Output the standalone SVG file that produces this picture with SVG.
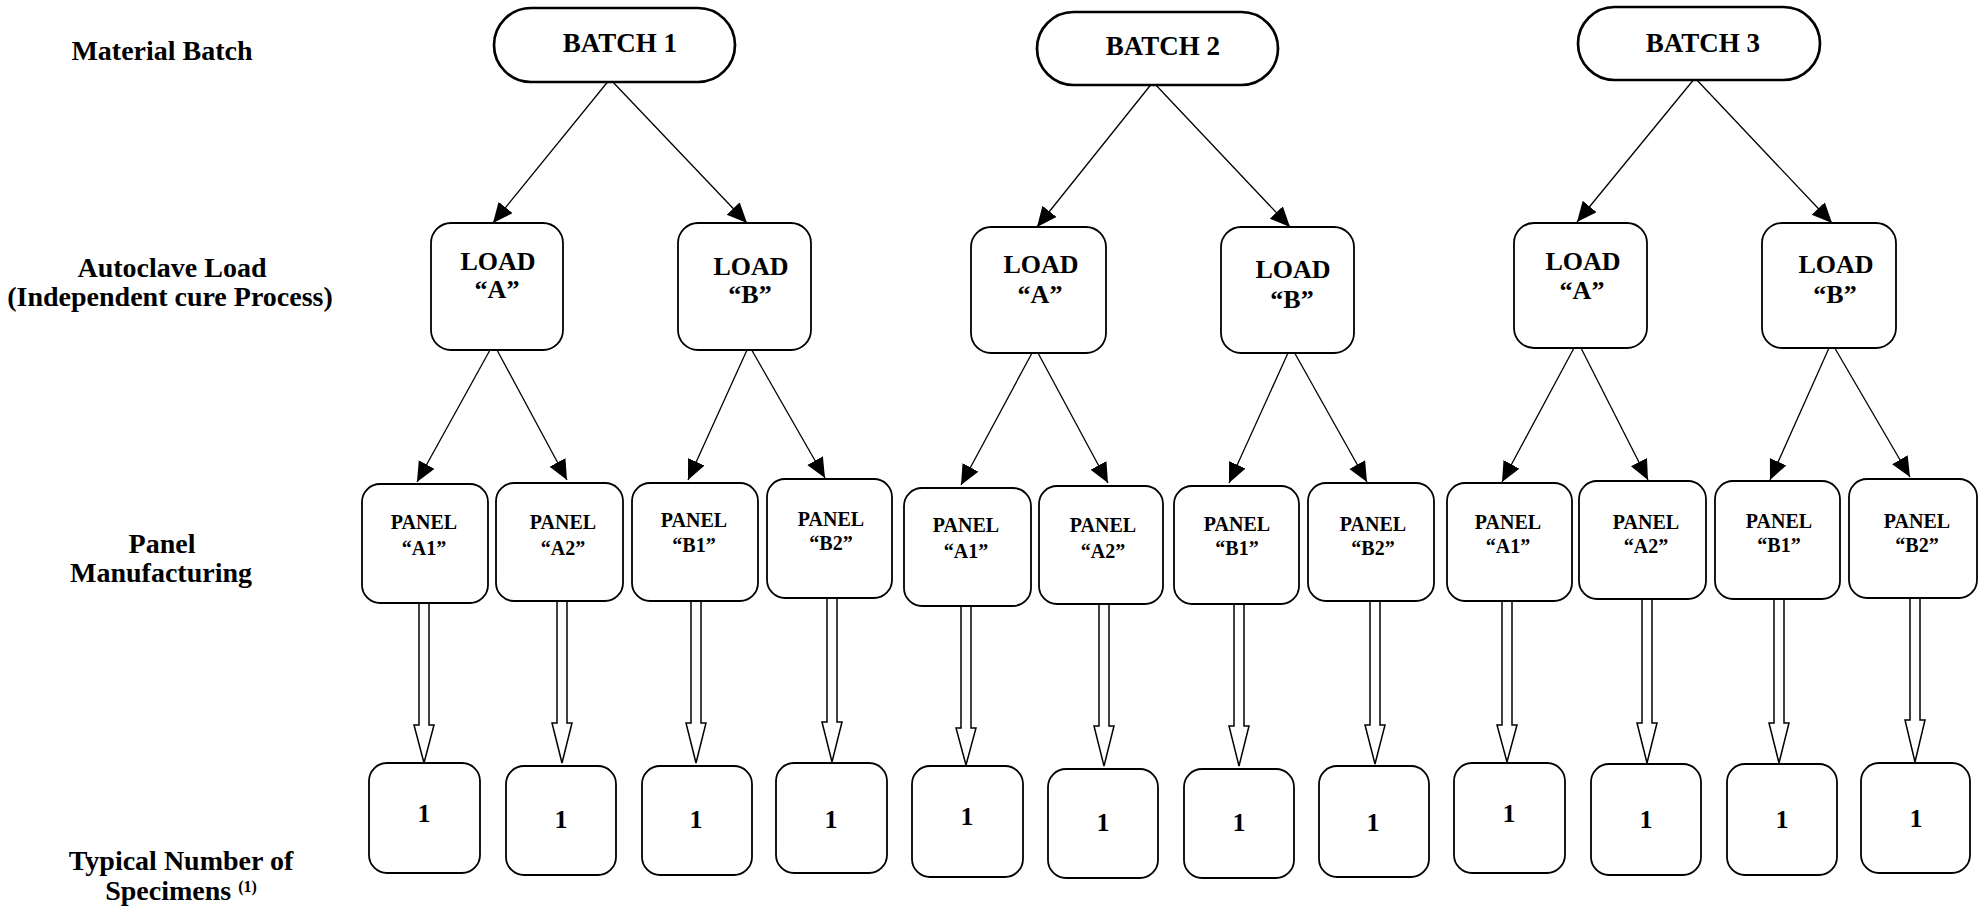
<svg xmlns="http://www.w3.org/2000/svg" width="1986" height="911" viewBox="0 0 1986 911">
<style>
text{font-family:"Liberation Serif","Times New Roman",serif;font-weight:bold;fill:#000;text-anchor:middle}
.lbl{font-size:28px}
.bt{font-size:27px}
.ld{font-size:26px}
.pn{font-size:20px}
.sp{font-size:26px}
.pill{fill:#fff;stroke:#000;stroke-width:2.7}
.box{fill:#fff;stroke:#000;stroke-width:1.8}
.ln{stroke:#000;stroke-width:1.3;fill:none;marker-end:url(#ah)}
.ha{fill:#fff;stroke:#000;stroke-width:1.5;stroke-linejoin:miter}
</style>
<defs>
<marker id="ah" markerUnits="userSpaceOnUse" markerWidth="22" markerHeight="20" refX="20" refY="9" orient="auto"><path d="M0,0 L20,9 L0,18 z" fill="#000"/></marker>
</defs>
<rect width="1986" height="911" fill="#fff"/>
<g id="labels">
<text class="lbl" x="162" y="60">Material Batch</text>
<text class="lbl" x="172" y="277">Autoclave Load</text>
<text class="lbl" x="170" y="306">(Independent cure Process)</text>
<text class="lbl" x="162" y="553">Panel</text>
<text class="lbl" x="161" y="582">Manufacturing</text>
<text class="lbl" x="181" y="870">Typical Number of</text>
<text class="lbl" x="181" y="900">Specimens <tspan dy="-8" style="font-size:16px">(1)</tspan></text>
</g>
<g id="connectors">
<line class="ln" x1="610" y1="79" x2="493" y2="223"/>
<line class="ln" x1="610" y1="79" x2="747" y2="223"/>
<line class="ln" x1="1153" y1="82" x2="1037" y2="227"/>
<line class="ln" x1="1153" y1="82" x2="1290" y2="227"/>
<line class="ln" x1="1695" y1="78" x2="1577" y2="222"/>
<line class="ln" x1="1695" y1="78" x2="1832" y2="223"/>
<line class="ln" x1="490" y1="350" x2="417" y2="482"/>
<line class="ln" x1="497" y1="350" x2="567" y2="480"/>
<line class="ln" x1="747" y1="350" x2="688" y2="480"/>
<line class="ln" x1="750" y1="347" x2="825" y2="478"/>
<line class="ln" x1="1032" y1="353" x2="961" y2="485"/>
<line class="ln" x1="1038" y1="353" x2="1108" y2="483"/>
<line class="ln" x1="1288" y1="353" x2="1229" y2="483"/>
<line class="ln" x1="1293" y1="350" x2="1367" y2="482"/>
<line class="ln" x1="1574" y1="348" x2="1502" y2="482"/>
<line class="ln" x1="1581" y1="348" x2="1648" y2="480"/>
<line class="ln" x1="1829" y1="348" x2="1770" y2="480"/>
<line class="ln" x1="1833" y1="345" x2="1910" y2="477"/>
<path class="ha" d="M419,603 V725 H414 L424,763 L434,725 H429 V603 Z"/>
<path class="ha" d="M557,601 V723 H552 L562,763 L572,723 H567 V601 Z"/>
<path class="ha" d="M691,601 V723 H686 L696,763 L706,723 H701 V601 Z"/>
<path class="ha" d="M827,598 V722 H822 L832,762 L842,722 H837 V598 Z"/>
<path class="ha" d="M961,606 V728 H956 L966,765 L976,728 H971 V606 Z"/>
<path class="ha" d="M1099,604 V726 H1094 L1104,766 L1114,726 H1109 V604 Z"/>
<path class="ha" d="M1234,604 V726 H1229 L1239,766 L1249,726 H1244 V604 Z"/>
<path class="ha" d="M1370,601 V725 H1365 L1375,764 L1385,725 H1380 V601 Z"/>
<path class="ha" d="M1502,601 V725 H1497 L1507,762 L1517,725 H1512 V601 Z"/>
<path class="ha" d="M1642,599 V723 H1637 L1647,763 L1657,723 H1652 V599 Z"/>
<path class="ha" d="M1774,599 V723 H1769 L1779,763 L1789,723 H1784 V599 Z"/>
<path class="ha" d="M1910,598 V720 H1905 L1915,762 L1925,720 H1920 V598 Z"/>
</g>
<g id="batch1"><rect class="pill" x="494" y="8" width="241" height="74" rx="37"/><text class="bt" x="620" y="52">BATCH 1</text></g>
<g id="batch2"><rect class="pill" x="1037" y="12" width="241" height="73" rx="36.5"/><text class="bt" x="1163" y="55">BATCH 2</text></g>
<g id="batch3"><rect class="pill" x="1578" y="7" width="242" height="73" rx="36.5"/><text class="bt" x="1703" y="52">BATCH 3</text></g>
<g id="load-1A"><rect class="box" x="431" y="223" width="132" height="127" rx="20"/><text class="ld" x="498" y="270">LOAD</text><text class="ld" x="497" y="298">“A”</text></g>
<g id="load-1B"><rect class="box" x="678" y="223" width="133" height="127" rx="20"/><text class="ld" x="751" y="275">LOAD</text><text class="ld" x="750" y="303">“B”</text></g>
<g id="load-2A"><rect class="box" x="971" y="227" width="135" height="126" rx="20"/><text class="ld" x="1041" y="273">LOAD</text><text class="ld" x="1040" y="303">“A”</text></g>
<g id="load-2B"><rect class="box" x="1221" y="227" width="133" height="126" rx="20"/><text class="ld" x="1293" y="278">LOAD</text><text class="ld" x="1292" y="308">“B”</text></g>
<g id="load-3A"><rect class="box" x="1514" y="223" width="133" height="125" rx="20"/><text class="ld" x="1583" y="270">LOAD</text><text class="ld" x="1582" y="299">“A”</text></g>
<g id="load-3B"><rect class="box" x="1762" y="223" width="134" height="125" rx="20"/><text class="ld" x="1836" y="273">LOAD</text><text class="ld" x="1835" y="303">“B”</text></g>
<g id="panel-1A1"><rect class="box" x="362" y="484" width="126" height="119" rx="18"/><text class="pn" x="424" y="529">PANEL</text><text class="pn" x="424" y="555">“A1”</text></g>
<g id="panel-1A2"><rect class="box" x="496" y="483" width="127" height="118" rx="18"/><text class="pn" x="563" y="529">PANEL</text><text class="pn" x="563" y="555">“A2”</text></g>
<g id="panel-1B1"><rect class="box" x="632" y="483" width="126" height="118" rx="18"/><text class="pn" x="694" y="527">PANEL</text><text class="pn" x="694" y="552">“B1”</text></g>
<g id="panel-1B2"><rect class="box" x="767" y="479" width="125" height="119" rx="18"/><text class="pn" x="831" y="526">PANEL</text><text class="pn" x="831" y="550">“B2”</text></g>
<g id="panel-2A1"><rect class="box" x="904" y="488" width="127" height="118" rx="18"/><text class="pn" x="966" y="532">PANEL</text><text class="pn" x="966" y="558">“A1”</text></g>
<g id="panel-2A2"><rect class="box" x="1039" y="486" width="124" height="118" rx="18"/><text class="pn" x="1103" y="532">PANEL</text><text class="pn" x="1103" y="558">“A2”</text></g>
<g id="panel-2B1"><rect class="box" x="1174" y="486" width="125" height="118" rx="18"/><text class="pn" x="1237" y="531">PANEL</text><text class="pn" x="1237" y="555">“B1”</text></g>
<g id="panel-2B2"><rect class="box" x="1308" y="483" width="126" height="118" rx="18"/><text class="pn" x="1373" y="531">PANEL</text><text class="pn" x="1373" y="555">“B2”</text></g>
<g id="panel-3A1"><rect class="box" x="1447" y="483" width="125" height="118" rx="18"/><text class="pn" x="1508" y="529">PANEL</text><text class="pn" x="1508" y="553">“A1”</text></g>
<g id="panel-3A2"><rect class="box" x="1579" y="481" width="127" height="118" rx="18"/><text class="pn" x="1646" y="529">PANEL</text><text class="pn" x="1646" y="553">“A2”</text></g>
<g id="panel-3B1"><rect class="box" x="1715" y="481" width="125" height="118" rx="18"/><text class="pn" x="1779" y="528">PANEL</text><text class="pn" x="1779" y="552">“B1”</text></g>
<g id="panel-3B2"><rect class="box" x="1849" y="479" width="128" height="119" rx="18"/><text class="pn" x="1917" y="528">PANEL</text><text class="pn" x="1917" y="552">“B2”</text></g>
<g id="spec-1A1"><rect class="box" x="369" y="763" width="111" height="110" rx="18"/><text class="sp" x="424" y="822">1</text></g>
<g id="spec-1A2"><rect class="box" x="506" y="766" width="110" height="109" rx="18"/><text class="sp" x="561" y="828">1</text></g>
<g id="spec-1B1"><rect class="box" x="642" y="766" width="110" height="109" rx="18"/><text class="sp" x="696" y="828">1</text></g>
<g id="spec-1B2"><rect class="box" x="776" y="763" width="111" height="110" rx="18"/><text class="sp" x="831" y="828">1</text></g>
<g id="spec-2A1"><rect class="box" x="912" y="766" width="111" height="111" rx="18"/><text class="sp" x="967" y="825">1</text></g>
<g id="spec-2A2"><rect class="box" x="1048" y="769" width="110" height="109" rx="18"/><text class="sp" x="1103" y="831">1</text></g>
<g id="spec-2B1"><rect class="box" x="1184" y="769" width="110" height="109" rx="18"/><text class="sp" x="1239" y="831">1</text></g>
<g id="spec-2B2"><rect class="box" x="1319" y="766" width="110" height="111" rx="18"/><text class="sp" x="1373" y="831">1</text></g>
<g id="spec-3A1"><rect class="box" x="1454" y="763" width="111" height="110" rx="18"/><text class="sp" x="1509" y="822">1</text></g>
<g id="spec-3A2"><rect class="box" x="1591" y="764" width="110" height="111" rx="18"/><text class="sp" x="1646" y="828">1</text></g>
<g id="spec-3B1"><rect class="box" x="1727" y="764" width="110" height="111" rx="18"/><text class="sp" x="1782" y="828">1</text></g>
<g id="spec-3B2"><rect class="box" x="1861" y="763" width="109" height="110" rx="18"/><text class="sp" x="1916" y="827">1</text></g>
</svg>
